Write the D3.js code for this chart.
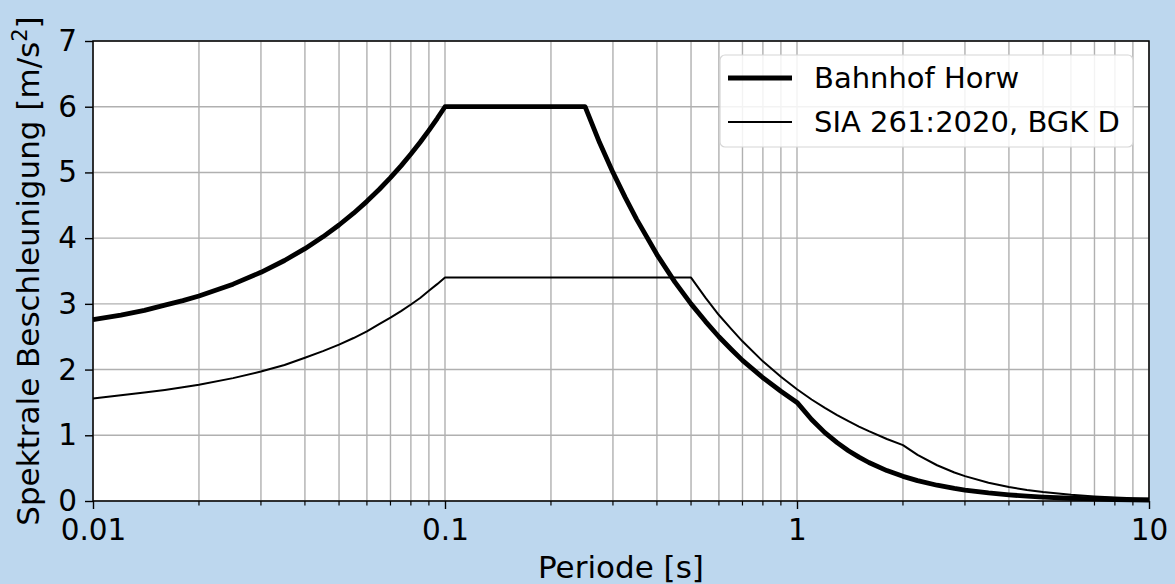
<!DOCTYPE html>
<html>
<head>
<meta charset="utf-8">
<script src="https://cdnjs.cloudflare.com/ajax/libs/d3/7.8.5/d3.min.js"></script>
<style>
  body { margin: 0; background: #bdd7ee; }
  svg { display: block; font-family: "DejaVu Sans", sans-serif; }
</style>
</head>
<body>
<div id="chart"></div>
<script>
// periods [s]
var periods = [0.01, 0.012, 0.014, 0.016, 0.018, 0.02, 0.025, 0.03, 0.035, 0.04,
  0.045, 0.05, 0.055, 0.06, 0.065, 0.07, 0.075, 0.08, 0.085, 0.09, 0.095, 0.1,
  0.15, 0.2, 0.25, 0.275, 0.3, 0.325, 0.35, 0.4, 0.45, 0.5, 0.55, 0.6, 0.65, 0.7,
  0.8, 0.9, 1, 1.1, 1.2, 1.3, 1.4, 1.5, 1.6, 1.8, 2, 2.2, 2.5, 2.8, 3, 3.5, 4,
  4.5, 5, 6, 7, 8, 9, 10];

// spectral acceleration [m/s2]
var horw = [2.76, 2.83, 2.90, 2.98, 3.05, 3.12, 3.30, 3.48, 3.66, 3.84,
  4.02, 4.20, 4.38, 4.56, 4.74, 4.92, 5.10, 5.28, 5.46, 5.64, 5.82, 6.0,
  6.0, 6.0, 6.0, 5.45, 5.0, 4.62, 4.29, 3.75, 3.33, 3.0, 2.73, 2.5, 2.31, 2.14,
  1.875, 1.67, 1.5, 1.24, 1.04, 0.888, 0.765, 0.667, 0.586, 0.463, 0.375, 0.31, 0.24, 0.191, 0.167, 0.122, 0.094,
  0.074, 0.06, 0.042, 0.031, 0.023, 0.0185, 0.015];

var sia = [1.56, 1.61, 1.65, 1.69, 1.73, 1.77, 1.87, 1.97, 2.07, 2.18,
  2.28, 2.38, 2.48, 2.58, 2.69, 2.79, 2.89, 2.99, 3.09, 3.20, 3.30, 3.4,
  3.4, 3.4, 3.4, 3.4, 3.4, 3.4, 3.4, 3.4, 3.4, 3.4, 3.09, 2.83, 2.62, 2.43,
  2.125, 1.89, 1.7, 1.545, 1.417, 1.308, 1.214, 1.133, 1.063, 0.944, 0.85, 0.702, 0.544, 0.434, 0.378, 0.278, 0.213,
  0.168, 0.136, 0.094, 0.069, 0.053, 0.042, 0.034];

var seriesNames = ["Bahnhof Horw", "SIA 261:2020, BGK D"];
var xTicks = [0.01, 0.1, 1, 10];
var xTickLabels = ["0.01", "0.1", "1", "10"];
var yTicks = [0, 1, 2, 3, 4, 5, 6, 7];

var W = 1175, H = 584;
var margin = { top: 41, right: 26, bottom: 83, left: 93 };
var width = W - margin.left - margin.right;
var height = H - margin.top - margin.bottom;

var svg = d3.select("#chart").append("svg")
  .attr("width", W)
  .attr("height", H);

svg.append("rect").attr("width", W).attr("height", H).attr("fill", "#bdd7ee");

var g = svg.append("g")
  .attr("transform", "translate(" + margin.left + "," + margin.top + ")");

g.append("rect").attr("width", width).attr("height", height).attr("fill", "white");

var x = d3.scaleLog().domain([0.01, 10]).range([0, width]);
var y = d3.scaleLinear().domain([0, 7]).range([height, 0]);

// minor x ticks
var minorX = [];
[0.01, 0.1, 1].forEach(function (d) {
  for (var k = 2; k <= 9; k++) minorX.push(d * k);
});

// grid
var grid = g.append("g").attr("stroke", "#b0b0b0").attr("stroke-width", 1.4);
grid.selectAll(".gx").data(minorX.concat(xTicks)).enter().append("line")
  .attr("x1", function (d) { return x(d); })
  .attr("x2", function (d) { return x(d); })
  .attr("y1", 0).attr("y2", height);
grid.selectAll(".gy").data(yTicks).enter().append("line")
  .attr("y1", function (d) { return y(d); })
  .attr("y2", function (d) { return y(d); })
  .attr("x1", 0).attr("x2", width);

// lines
var line = d3.line()
  .x(function (d) { return x(d[0]); })
  .y(function (d) { return y(d[1]); });

g.append("path")
  .datum(d3.zip(periods, sia))
  .attr("fill", "none").attr("stroke", "black").attr("stroke-width", 2)
  .attr("stroke-linejoin", "round")
  .attr("d", line);

g.append("path")
  .datum(d3.zip(periods, horw))
  .attr("fill", "none").attr("stroke", "black").attr("stroke-width", 4.8)
  .attr("stroke-linejoin", "round")
  .attr("d", line);

// axes
var xAxis = g.append("g")
  .attr("transform", "translate(0," + height + ")")
  .call(d3.axisBottom(x).tickValues(xTicks)
    .tickFormat(function (d, i) { return xTickLabels[i]; })
    .tickSize(8).tickPadding(10));
xAxis.append("g").selectAll("line").data(minorX).enter().append("line")
  .attr("x1", function (d) { return x(d); })
  .attr("x2", function (d) { return x(d); })
  .attr("y1", 0).attr("y2", 4.5)
  .attr("stroke", "black").attr("stroke-width", 1.2);

var yAxis = g.append("g")
  .call(d3.axisLeft(y).tickValues(yTicks).tickFormat(d3.format("d"))
    .tickSize(8).tickPadding(8));

[xAxis, yAxis].forEach(function (ax) {
  ax.select(".domain").remove();
  ax.selectAll(".tick line").attr("stroke-width", 1.4);
  ax.selectAll(".tick text").attr("font-size", 29.5).attr("fill", "black")
    .attr("font-family", "DejaVu Sans");
});

// frame
g.append("rect").attr("width", width).attr("height", height)
  .attr("fill", "none").attr("stroke", "black").attr("stroke-width", 1.5);

// axis labels
svg.append("text")
  .attr("x", margin.left + width / 2).attr("y", 578)
  .attr("text-anchor", "middle").attr("font-size", 31)
  .text("Periode [s]");

var yl = svg.append("text")
  .attr("transform", "translate(39," + (margin.top + height / 2) + ") rotate(-90)")
  .attr("text-anchor", "middle").attr("font-size", 31);
yl.append("tspan").text("Spektrale Beschleunigung [m/s");
yl.append("tspan").attr("font-size", 21).attr("dy", -12).text("2");
yl.append("tspan").attr("dy", 12).text("]");

// legend
var lg = svg.append("g").attr("transform", "translate(720,55)");
lg.append("rect").attr("width", 413).attr("height", 92).attr("rx", 5)
  .attr("fill", "white").attr("fill-opacity", 0.85)
  .attr("stroke", "#d6d6d6").attr("stroke-width", 1.2);
var widths = [4.8, 2];
seriesNames.forEach(function (name, i) {
  var cy = 23 + i * 44;
  lg.append("line").attr("x1", 8).attr("x2", 72)
    .attr("y1", cy).attr("y2", cy)
    .attr("stroke", "black").attr("stroke-width", widths[i]);
  lg.append("text").attr("x", 94).attr("y", cy + 10)
    .attr("font-size", 29).text(name);
});
</script>
</body>
</html>
